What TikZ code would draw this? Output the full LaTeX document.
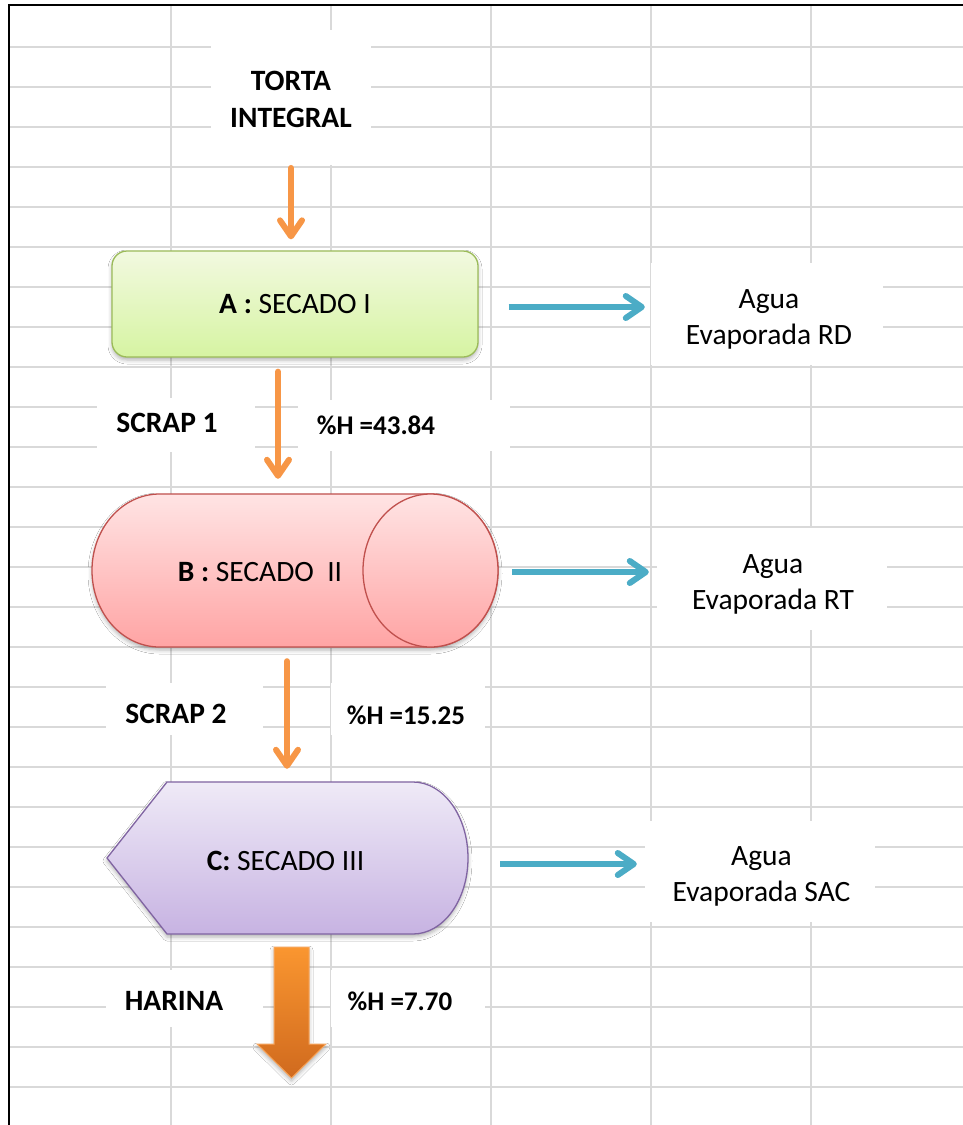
\documentclass[tikz,border=0pt]{standalone}
\usepackage{fontspec}
\setmainfont{Carlito}
\usetikzlibrary{arrows.meta,shadows.blur,calc}

\definecolor{gridgray}{HTML}{D9D9D9}
\definecolor{flowor}{HTML}{F79646}
\definecolor{watercyan}{HTML}{4BACC6}
\definecolor{greenedge}{HTML}{9BBB59}
\definecolor{greentop}{HTML}{F2F9E0}
\definecolor{greenbot}{HTML}{D6F4A2}
\definecolor{rededge}{HTML}{C0504D}
\definecolor{redtop}{HTML}{FFE4E4}
\definecolor{redbot}{HTML}{FFA4A4}
\definecolor{violetedge}{HTML}{8064A2}
\definecolor{violettop}{HTML}{EFEAF7}
\definecolor{violetbot}{HTML}{C7B3E2}
\definecolor{bigtop}{HTML}{FA9630}
\definecolor{bigbot}{HTML}{D06A1E}
\definecolor{bigedge}{HTML}{F7A75F}

\begin{document}
\begin{tikzpicture}[x=1pt,y=1pt,
  gridline/.style={draw=gridgray, line width=1.6pt},
  mask/.style={fill=white, draw=none, inner sep=0},
  lbl/.style={inner sep=0, align=center, font=\fontsize{29.5}{37}\selectfont\bfseries},
  pct/.style={inner sep=0, font=\fontsize{27}{32}\selectfont\bfseries},
  outlbl/.style={inner sep=0, align=center, font=\fontsize{29.5}{36}\selectfont},
  boxtext/.style={inner sep=0, font=\fontsize{29.5}{34}\selectfont},
  softshadow/.style={blur shadow={shadow xshift=0pt, shadow yshift=-3pt,
      shadow blur radius=4pt, shadow opacity=30}},
  barb/.style={-{Straight Barb[length=16pt,width=22pt,round]}},
  flow/.style={draw=flowor, line width=6pt, line cap=round, barb},
  water/.style={draw=watercyan, line width=6pt, barb,
      preaction={draw=black, opacity=0.15, transform canvas={yshift=-2.5pt}}},
]
% page and spreadsheet grid
\useasboundingbox (0,0) rectangle (963,-1125);
\fill[white] (0,0) rectangle (963,-1125);
\foreach \k in {1,...,27}
  \draw[gridline] (10,{-7-40*\k}) -- (963,{-7-40*\k});
\foreach \xx in {171,331,491,651,811}
  \draw[gridline] (\xx,-5) -- (\xx,-1125);

% white cells behind the labels
\fill[mask] (211,-30) rectangle (371,-165);
\fill[mask] (97,-398) rectangle (255,-452);
\fill[mask] (298,-400) rectangle (510,-451);
\fill[mask] (106,-683) rectangle (263,-735);
\fill[mask] (331,-683) rectangle (485,-735);
\fill[mask] (106,-970) rectangle (263,-1027);
\fill[mask] (331,-970) rectangle (485,-1027);
\node[mask, minimum width=232pt, minimum height=102pt] (rdbox) at (767,-314) {};
\node[mask, minimum width=230pt, minimum height=102pt] (rtbox) at (772,-579) {};
\node[mask, minimum width=230pt, minimum height=101pt] (sacbox) at (760,-871.5) {};

% sheet border
\draw[line width=2.2pt] (9,-1125) -- (9,-5) -- (963,-5);

% A: rounded process box
\node[draw=greenedge, line width=1.3pt, rounded corners=15pt,
      top color=greentop, bottom color=greenbot, softshadow,
      minimum width=366pt, minimum height=106pt, inner sep=0,
      font=\fontsize{29.5}{34}\selectfont] (A) at (295,-304) {\textbf{A :} SECADO I};

% B: horizontal drum
\path[draw=rededge, line width=1.3pt, top color=redtop, bottom color=redbot, softshadow]
  (159.5,-494) -- (430.5,-494)
  arc[start angle=90, end angle=-90, x radius=67.5pt, y radius=76.5pt]
  -- (159.5,-647)
  arc[start angle=270, end angle=90, x radius=67.5pt, y radius=76.5pt] -- cycle;
\path[draw=rededge, line width=1.3pt, top color=redtop, bottom color=redbot]
  (430.5,-570.5) ellipse[x radius=67.5pt, y radius=76.5pt];
\node[minimum width=406pt, minimum height=153pt, inner sep=0] (B) at (295,-570.5) {};
\node[boxtext] (Bt) at (260,-572) {\textbf{B :} SECADO\ \ II};

% C: display box
\path[draw=violetedge, line width=1.3pt, top color=violettop, bottom color=violetbot, softshadow]
  (107,-858) -- (167,-782) -- (413,-782)
  arc[start angle=90, end angle=-90, x radius=55pt, y radius=76pt]
  -- (167,-934) -- cycle;
\node[minimum width=361pt, minimum height=152pt, inner sep=0] (C) at (287.5,-858) {};
\node[boxtext] (Ct) at (285.5,-860.5) {\textbf{C:} SECADO III};

% texts
\node[lbl] (torta) at (291,-99.5) {TORTA\\INTEGRAL};
\node[lbl] (scrap1) at (167,-423) {SCRAP 1};
\node[pct] (h1) at (376,-425.5) {\%H =43.84};
\node[lbl] (scrap2) at (176,-713.5) {SCRAP 2};
\node[pct] (h2) at (406,-715) {\%H =15.25};
\node[lbl] (harina) at (174,-1000.5) {HARINA};
\node[pct] (h3) at (400,-1001) {\%H =7.70};
\node[outlbl] (rd) at (769,-319) {Agua\\Evaporada RD};
\node[outlbl] (rt) at (773,-584.5) {Agua\\Evaporada RT};
\node[outlbl] (sac) at (761.5,-876.5) {Agua\\Evaporada SAC};

% main flow
\draw[flow, shorten <=40pt, shorten >=11pt] (torta.south) -- (torta.south |- A.north);
\draw[flow, shorten <=14pt, shorten >=15pt] ([xshift=-17pt]A.south) -- ([xshift=-17pt]A.south |- B.north);
\draw[flow, shorten <=14pt, shorten >=13pt] ([xshift=-8pt]B.south) -- ([xshift=-8pt]B.south |- C.north);

% evaporated water
\draw[water, shorten <=30pt, shorten >=6pt] ([yshift=-3pt]A.east) -- ([yshift=-3pt]A.east -| rdbox.west);
\draw[water, shorten <=14pt, shorten >=8pt] ([yshift=-1.5pt]B.east) -- ([yshift=-1.5pt]B.east -| rtbox.west);
\draw[water, shorten <=32pt, shorten >=8pt] ([yshift=-6pt]C.east) -- ([yshift=-6pt]C.east -| sacbox.west);

% product outlet
\path[draw=bigedge, line width=1pt, top color=bigtop, bottom color=bigbot, softshadow]
  (274,-947) -- (309,-947) -- (309,-1044) -- (326,-1044) -- (291.5,-1078)
  -- (257,-1044) -- (274,-1044) -- cycle;
\end{tikzpicture}
\end{document}
